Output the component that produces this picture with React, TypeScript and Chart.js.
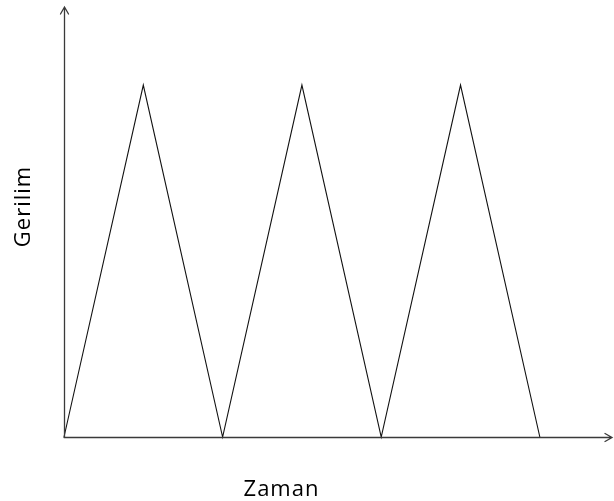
import React, { useEffect, useRef } from "react";
import { Chart, registerables } from "chart.js";

Chart.register(...registerables);

// Triangle wave: time (half-periods) vs. voltage (relative to peak)
const timePoints = [0, 1, 2, 3, 4, 5, 6];
const voltageValues = [0, 1, 0, 1, 0, 1, 0];
const xAxisTitle = "Zaman";
const yAxisTitle = "Gerilim";

const arrowAxes = {
  id: "arrowAxes",
  afterDatasetsDraw(chart: any) {
    const { ctx, chartArea } = chart;
    const { left, right, top, bottom } = chartArea;
    ctx.save();
    ctx.strokeStyle = "#3a3a3a";
    ctx.lineWidth = 1.3;
    ctx.lineCap = "round";
    ctx.beginPath();
    // y axis with arrow
    ctx.moveTo(left + 0.5, bottom);
    ctx.lineTo(left + 0.5, top);
    ctx.moveTo(left + 0.5 - 4, top + 7);
    ctx.lineTo(left + 0.5, top);
    ctx.lineTo(left + 0.5 + 4, top + 7);
    // x axis with arrow
    ctx.moveTo(left, bottom + 0.5);
    ctx.lineTo(right, bottom + 0.5);
    ctx.moveTo(right - 7, bottom + 0.5 - 4);
    ctx.lineTo(right, bottom + 0.5);
    ctx.lineTo(right - 7, bottom + 0.5 + 4);
    ctx.stroke();

    // axis titles
    const spacing = 1;
    ctx.fillStyle = "#000";
    ctx.font = "500 22px 'Open Sans', 'Noto Sans', sans-serif";
    (ctx as any).letterSpacing = spacing + "px";
    ctx.textAlign = "center";
    ctx.textBaseline = "alphabetic";
    ctx.fillText(xAxisTitle, left + 217 + spacing / 2, bottom + 59);
    ctx.save();
    ctx.translate(left - 34, top + 200);
    ctx.rotate(-Math.PI / 2);
    ctx.fillText(yAxisTitle, spacing / 2, 0);
    ctx.restore();
    ctx.restore();
  },
};

export default function App() {
  const canvasRef = useRef<HTMLCanvasElement | null>(null);

  useEffect(() => {
    document.body.style.margin = "0";
    const canvas = canvasRef.current;
    if (!canvas) return;
    const chart = new Chart(canvas, {
      type: "line",
      data: {
        datasets: [
          {
            data: timePoints.map((t, i) => ({ x: t, y: voltageValues[i] })),
            borderColor: "#111",
            borderWidth: 1.1,
            pointRadius: 0,
            tension: 0,
            clip: false as any,
          },
        ],
      },
      options: {
        animation: false,
        responsive: false,
        maintainAspectRatio: false,
        layout: { padding: { left: 64, right: 2, top: 7, bottom: 64 } },
        plugins: { legend: { display: false }, tooltip: { enabled: false } },
        scales: {
          x: { type: "linear", min: 0, max: 6.91, display: false },
          y: { type: "linear", min: 0, max: 1.222, display: false },
        },
      },
      plugins: [arrowAxes],
    });
    return () => chart.destroy();
  }, []);

  return (
    <div style={{ width: 614, height: 501, background: "#fff" }}>
      <canvas ref={canvasRef} width={614} height={501} />
    </div>
  );
}
